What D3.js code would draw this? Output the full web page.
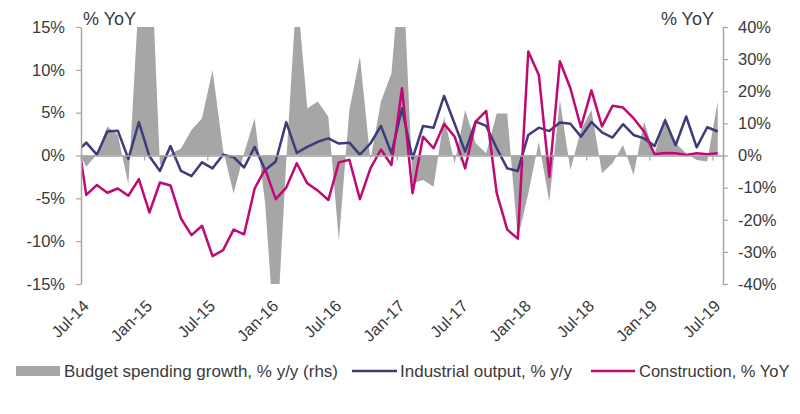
<!DOCTYPE html>
<html>
<head>
<meta charset="utf-8">
<script src="https://cdn.jsdelivr.net/npm/d3@7"></script>
<style>
  html, body { margin: 0; padding: 0; background: #fff; }
  svg text { font-family: "Liberation Sans", Arial, sans-serif; fill: #3a3a3a; }
</style>
</head>
<body>
<div id="wrapper"></div>
<script>
// monthly, Jun-14 .. Jul-19 (Jun-14 sits just left of the axis and is clipped)
const months = d3.timeMonth.range(new Date(2014, 5, 1), new Date(2019, 7, 1));

// Budget spending growth, % y/y (rhs)
const budget = [
  3, -3.5, 0.3, 9.0, 6.4, -9, 50, 75, -3, 0.5, 2.2, 7.9, 11.6,
  26.6, 1.7, -11.8, 0.8, 11.6, -15, -62, -2, 52, 14.7, 16.8, 12.1,
  -26.5, 14.2, 30.8, -1.4, 16.8, 25.6, 65, -8.7, -7.6, -9.7, 12.1,
  -2.4, 14.2, 3.8, 0.7, 13.1, 13.1, -26, -11.8, 4.3, -14.4, 17.3,
  -4.5, 7.9, 14.2, -5.5, -2.4, 3.3, -6.1, 10.5, 0.5, 12.1, 3.8,
  0.7, -1.4, -1.9, 16.8
];

// Industrial output, % y/y (lhs)
const industrial = [
  0.3, 1.5, 0.1, 2.8, 2.9, -0.4, 3.9, -0.1, -1.8, 1.1, -1.8, -2.4, -0.8,
  -1.5, 0.1, -0.2, -1.4, 1.0, -1.7, -0.7, 3.9, 0.3, 1.0, 1.6, 2.0,
  1.4, 1.5, 0.1, 1.4, 3.45, 0.25, 5.5, -0.35, 3.45, 3.25, 6.95,
  3.7, 0.45, 3.95, 3.45, 0.85, -1.5, -1.8, 2.4, 3.25, 2.85, 3.85,
  3.7, 2.2, 3.9, 2.7, 2.1, 3.65, 2.4, 2.0, 1.1, 4.1, 1.2,
  4.55, 0.95, 3.3, 2.8
];

// Construction, % YoY (lhs)
const construction = [
  3.6, -4.6, -3.45, -4.35, -3.85, -4.7, -2.75, -6.65, -3.15, -3.5, -7.35, -9.3, -8.2,
  -11.75, -11.05, -8.65, -9.2, -3.85, -1.6, -5.1, -3.75, -0.9, -3.25, -4.1, -5.2,
  -0.8, -0.5, -5.1, -1.5, 0.7, -1.1, 7.85, -4.4, 2.2, 0.85, 3.7,
  2.2, -1.5, 3.95, 5.2, -4.4, -8.65, -9.7, 12.15, 9.4, -2.5, 11.0,
  7.85, 3.3, 7.6, 3.4, 5.8, 5.6, 4.35, 2.8, 0.15, 0.3, 0.25,
  0.05, 0.25, 0.15, 0.25
];

const tickLabels = ["Jul-14", "Jan-15", "Jul-15", "Jan-16", "Jul-16", "Jan-17",
                    "Jul-17", "Jan-18", "Jul-18", "Jan-19", "Jul-19"];
const leftTicks = [-15, -10, -5, 0, 5, 10, 15];
const rightTicks = [-40, -30, -20, -10, 0, 10, 20, 30, 40];

const colors = { budget: "#a6a6a6", industrial: "#3d3c7a", construction: "#bf0a73", axis: "#a6a6a6" };

var dimension = {
    width: 800,
    height: 414,
    plot: { left: 81, right: 723, top: 27, bottom: 284 }
};

const firstMonth = new Date(2014, 6, 1);
const idx = (m) => d3.timeMonth.count(firstMonth, m);   // Jul-14 = 0

const x = d3.scaleLinear()
    .domain([0, 61])
    .range([dimension.plot.left, dimension.plot.right]);
const xPoint = (d) => x(idx(d.date) + 0.5);

const yLeft = d3.scaleLinear().domain([-15, 15]).range([dimension.plot.bottom, dimension.plot.top]);
const yRight = d3.scaleLinear().domain([-40, 40]).range([dimension.plot.bottom, dimension.plot.top]);

const rows = months.map((m, i) => ({
    date: m,
    budget: budget[i],
    industrial: industrial[i],
    construction: construction[i]
}));

const svg = d3.select("#wrapper").append("svg")
    .attr("width", dimension.width)
    .attr("height", dimension.height);

svg.append("clipPath").attr("id", "plotclip")
  .append("rect")
    .attr("x", dimension.plot.left)
    .attr("y", dimension.plot.top)
    .attr("width", dimension.plot.right - dimension.plot.left)
    .attr("height", dimension.plot.bottom - dimension.plot.top);

const plot = svg.append("g").attr("clip-path", "url(#plotclip)");

// grey area, rhs
const area = d3.area()
    .x(xPoint)
    .y0(yRight(0))
    .y1(d => yRight(d.budget));

plot.append("path")
    .attr("d", area(rows))
    .attr("fill", colors.budget);

// category axis on the zero line
const zeroAxis = svg.append("g")
    .attr("transform", `translate(0,${yLeft(0)})`)
    .call(d3.axisBottom(x).tickValues(d3.range(0, 61, 6)).tickSize(5).tickFormat(""));
zeroAxis.select(".domain").attr("stroke", colors.axis).attr("stroke-width", 1.5);
zeroAxis.selectAll(".tick line").attr("stroke", colors.axis).attr("stroke-width", 1.2);

// lines, lhs
const lineInd = d3.line().x(xPoint).y(d => yLeft(d.industrial));
const lineCon = d3.line().x(xPoint).y(d => yLeft(d.construction));

plot.append("path")
    .attr("d", lineInd(rows))
    .attr("fill", "none")
    .attr("stroke", colors.industrial)
    .attr("stroke-width", 2.5)
    .attr("stroke-linejoin", "round");

plot.append("path")
    .attr("d", lineCon(rows))
    .attr("fill", "none")
    .attr("stroke", colors.construction)
    .attr("stroke-width", 2.5)
    .attr("stroke-linejoin", "round");

// left axis
const leftAxis = svg.append("g")
    .attr("transform", `translate(${dimension.plot.left},0)`)
    .call(d3.axisLeft(yLeft).tickValues(leftTicks).tickSize(5).tickSizeOuter(0).tickPadding(11)
        .tickFormat(d => d + "%"));

// right axis
const rightAxis = svg.append("g")
    .attr("transform", `translate(${dimension.plot.right},0)`)
    .call(d3.axisRight(yRight).tickValues(rightTicks).tickSize(5).tickSizeOuter(0).tickPadding(10)
        .tickFormat(d => d + "%"));

[leftAxis, rightAxis].forEach(a => {
    a.select(".domain").attr("stroke", colors.axis).attr("stroke-width", 1.5);
    a.selectAll(".tick line").attr("stroke", colors.axis).attr("stroke-width", 1.2);
    a.selectAll(".tick text")
        .attr("fill", "#3a3a3a")
        .style("font-size", "16.5px")
        .style("font-family", "'Liberation Sans', Arial, sans-serif");
});

// axis titles
svg.append("text")
    .attr("x", 83).attr("y", 25)
    .style("font-size", "18px")
    .text("% YoY");
svg.append("text")
    .attr("x", 714).attr("y", 25)
    .attr("text-anchor", "end")
    .style("font-size", "18px")
    .text("% YoY");

// rotated date labels
svg.append("g")
    .selectAll("text")
    .data(tickLabels)
    .join("text")
    .attr("transform", (d, i) => `translate(${x(i * 6) + 9},${307}) rotate(-45)`)
    .attr("text-anchor", "end")
    .style("font-size", "16.5px")
    .text(d => d);

// legend
const legend = svg.append("g").attr("transform", "translate(0,371)");
legend.append("rect")
    .attr("x", 16).attr("y", -5).attr("width", 44).attr("height", 10)
    .attr("fill", colors.budget);
legend.append("text").attr("x", 64).attr("y", 6).style("font-size", "17px")
    .text("Budget spending growth, % y/y (rhs)");

legend.append("line")
    .attr("x1", 352).attr("x2", 397).attr("y1", 0).attr("y2", 0)
    .attr("stroke", colors.industrial).attr("stroke-width", 2.5);
legend.append("text").attr("x", 400).attr("y", 6).style("font-size", "17px")
    .text("Industrial output, % y/y");

legend.append("line")
    .attr("x1", 591).attr("x2", 635).attr("y1", 0).attr("y2", 0)
    .attr("stroke", colors.construction).attr("stroke-width", 2.5);
legend.append("text").attr("x", 639).attr("y", 6).style("font-size", "16.5px")
    .text("Construction, % YoY");
</script>
</body>
</html>
